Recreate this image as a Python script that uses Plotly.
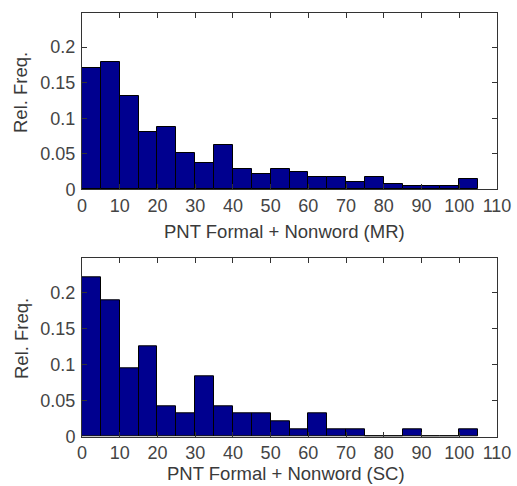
import plotly.graph_objects as go

bin_centers = [2.5, 7.5, 12.5, 17.5, 22.5, 27.5, 32.5, 37.5, 42.5, 47.5, 52.5,
               57.5, 62.5, 67.5, 72.5, 77.5, 82.5, 87.5, 92.5, 97.5, 102.5]
mr_freq = [0.170, 0.179, 0.131, 0.080, 0.087, 0.051, 0.037, 0.063, 0.0285, 0.022, 0.0285,
           0.025, 0.018, 0.018, 0.0107, 0.018, 0.008, 0.005, 0.005, 0.005, 0.0145]
sc_freq = [0.221, 0.189, 0.095, 0.126, 0.042, 0.032, 0.084, 0.042, 0.032, 0.032, 0.021,
           0.0105, 0.032, 0.0105, 0.0105, 0.0, 0.0, 0.0105, 0.0, 0.0, 0.0105]
x_ticks = [0, 10, 20, 30, 40, 50, 60, 70, 80, 90, 100, 110]
y_ticks = [0, 0.05, 0.1, 0.15, 0.2]
y_tick_labels = ["0", "0.05", "0.1", "0.15", "0.2"]
x_label_top = "PNT Formal + Nonword (MR)"
x_label_bottom = "PNT Formal + Nonword (SC)"
y_label = "Rel. Freq."

W, H = 517, 486
FONT = "Liberation Sans, Arial, sans-serif"
TXT = "#3a3a3a"
BAR = "#00008F"

fig = go.Figure()
fig.add_trace(go.Bar(x=bin_centers, y=mr_freq, width=5, marker=dict(color=BAR, line=dict(color="black", width=1)),
                     xaxis="x", yaxis="y", showlegend=False))
fig.add_trace(go.Bar(x=bin_centers, y=sc_freq, width=5, marker=dict(color=BAR, line=dict(color="black", width=1)),
                     xaxis="x2", yaxis="y2", showlegend=False))

xdom = [82 / W, 497 / W]
ydom_top = [1 - 189.3 / H, 1 - 13 / H]
ydom_bot = [1 - 436.7 / H, 1 - 258.3 / H]

axcommon = dict(showline=True, linecolor="#333333", linewidth=1, mirror="ticks", ticks="inside",
                ticklen=5, tickcolor="#333333", showgrid=False, zeroline=False, automargin=False,
                tickfont=dict(family=FONT, size=18, color="#444444"))

fig.update_layout(
    template="none",
    width=W, height=H, margin=dict(l=0, r=0, t=0, b=0, pad=0, autoexpand=False),
    paper_bgcolor="white", plot_bgcolor="white", bargap=0,
    xaxis=dict(domain=xdom, range=[0, 110], tickvals=x_ticks, anchor="y", ticklabelstandoff=0, **axcommon),
    yaxis=dict(domain=ydom_top, range=[0, 0.248], tickvals=y_ticks, ticktext=y_tick_labels, anchor="x",
               ticklabelstandoff=2, **axcommon),
    xaxis2=dict(domain=xdom, range=[0, 110], tickvals=x_ticks, anchor="y2", ticklabelstandoff=0, **axcommon),
    yaxis2=dict(domain=ydom_bot, range=[0, 0.248], tickvals=y_ticks, ticktext=y_tick_labels, anchor="x2",
                ticklabelstandoff=2, **axcommon),
)

def ann(text, x, y, angle=0):
    fig.add_annotation(text=text, x=x / W, y=1 - y / H, xref="paper", yref="paper",
                       showarrow=False, textangle=angle, xanchor="center", yanchor="middle",
                       borderpad=0, font=dict(family=FONT, size=18.5, color=TXT))

ann(y_label, 21, 93, -90)
ann(y_label, 21, 339, -90)
ann(x_label_top, 284, 231)
ann(x_label_bottom, 286, 473)

fig.write_html("out.html")
